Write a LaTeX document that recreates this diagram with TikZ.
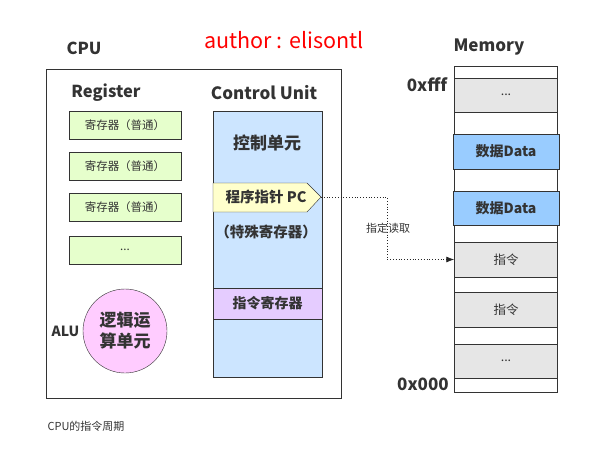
\documentclass[tikz,border=0pt]{standalone}
\usepackage{fontspec}
\setmainfont{Noto Sans CJK SC}
\usetikzlibrary{arrows.meta}
\usetikzlibrary{positioning}

\definecolor{txt}{HTML}{333333}
\definecolor{regfill}{HTML}{E6FFCC}
\definecolor{cufill}{HTML}{CCE5FF}
\definecolor{pcfill}{HTML}{FFFFCC}
\definecolor{irfill}{HTML}{E5CCFF}
\definecolor{alufill}{HTML}{FFCCFF}
\definecolor{memgray}{HTML}{E6E6E6}
\definecolor{memblue}{HTML}{99CCFF}
\newcommand{\moredots}{...}

\tikzset{
 title/.style={text=txt, font=\fontsize{16.5}{16.5}\selectfont\bfseries},
 regbox/.style={draw=black!80, fill=regfill, minimum width=112pt, minimum height=28pt,
   inner sep=0, text=txt, font=\fontsize{11.5}{11.5}\selectfont},
 mfree/.style={draw=black!80, fill=white, minimum width=103pt},
 mgray/.style={draw=black!80, fill=memgray, minimum width=103pt,
   font=\fontsize{12.5}{12.5}\selectfont},
 mdata/.style={draw=black!80, fill=memblue, minimum width=106pt,
   font=\fontsize{14}{14}\selectfont\bfseries},
}

\begin{document}
\begin{tikzpicture}[x=1pt, y=-1pt]
\useasboundingbox (0,0) rectangle (603,472);

% headings
\node[title] (cpulbl) at (84,48) {CPU};
\node[text=red, font=\fontsize{21.5}{21.5}\selectfont] (author) at (284,40) {author : elisontl};
\node[title, font=\fontsize{17}{17}\selectfont\bfseries] (memlbl) at (489,47) {Memory};

% cpu
\draw[black!80] (46,69) rectangle (341,398);
\node[title] (reglbl) at (106,93) {Register};
\node[title, font=\fontsize{17}{17}\selectfont\bfseries] (culbl) at (264,93) {Control Unit};

\foreach \y/\t [count=\i] in {125/寄存器（普通）, 166/寄存器（普通）, 207/寄存器（普通）, 250/\moredots}
 \node[regbox] (reg\i) at (125,\y) {\t};

\node[circle, draw=black!80, fill=alufill, minimum size=84pt, inner sep=0, text=txt,
  align=center, font=\fontsize{17}{21}\selectfont\bfseries] (alu) at (125,331) {逻辑运\\算单元};
\node[text=txt, font=\fontsize{14}{14}\selectfont\bfseries, left=0pt of alu] (alulbl) {ALU};

% control unit
\draw[black!80, fill=cufill] (213,111) rectangle (322,377);
\node[text=txt, font=\fontsize{17}{17}\selectfont\bfseries] (cu) at (267,143) {控制单元};
\draw[black!80, fill=pcfill] (213,183) -- (307,183) -- (321,197) -- (307,212) -- (213,212) -- cycle;
\coordinate (pctip) at (321,197);
\node[text=txt, font=\fontsize{14.5}{14.5}\selectfont\bfseries] (pc) at (266,197) {程序指针 PC};
\node[text=txt, font=\fontsize{14.5}{14.5}\selectfont\bfseries] (spec) at (266,232) {（特殊寄存器）};
\node[draw=black!80, fill=irfill, minimum width=109pt, minimum height=31pt, inner sep=0,
  text=txt, font=\fontsize{14}{14}\selectfont\bfseries] (ir) at (267.5,303.5) {指令寄存器};

% memory
\foreach \top/\bot/\kind/\t [count=\i, evaluate=\top as \h using \bot-\top] in
 {66/78/mfree/{}, 78/112/mgray/\moredots, 112/134/mfree/{}, 134/169/mdata/数据Data,
  169/191/mfree/{}, 191/225/mdata/数据Data, 225/242/mfree/{}, 242/277/mgray/指令,
  277/292/mfree/{}, 292/327/mgray/指令, 327/344/mfree/{}, 344/378/mgray/\moredots,
  378/392/mfree/{}}
 \node[\kind, minimum height=\h pt, inner sep=0, text=txt] (m\i) at (506,{(\top+\bot)/2}) {\t};

\node[title, font=\fontsize{17}{17}\selectfont\bfseries] (hi) at (427,85) {0xfff};
\node[title, font=\fontsize{17}{17}\selectfont\bfseries] (lo) at (423,384) {0x000};

% fetch
\coordinate (bend) at (387,197);
\draw[black!85, dotted, thick, -{Latex[length=8pt, width=6pt]}] (pctip) -- (bend) |- (m8.west);
\node[text=txt, font=\fontsize{11}{11}\selectfont] (fetch) at (388,228) {指定读取};

\node[text=txt, font=\fontsize{11}{11}\selectfont] (caption) at (86,426) {CPU的指令周期};
\end{tikzpicture}
\end{document}
